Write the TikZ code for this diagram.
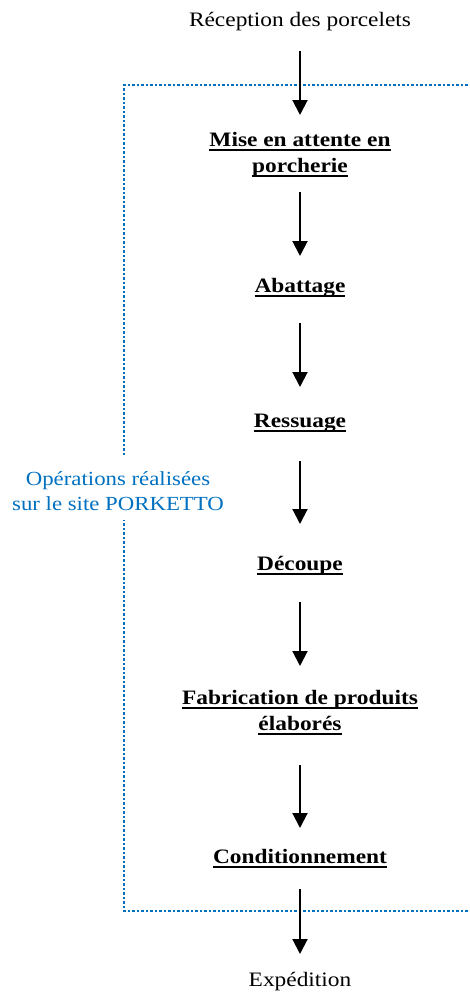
\documentclass[tikz,border=0pt]{standalone}
\usepackage{fontspec}
\setmainfont{Liberation Serif}[FakeStretch=1.14]
\usetikzlibrary{arrows.meta}
\definecolor{siteblue}{RGB}{0,112,192}
\newcommand\ulb[1]{\setbox0\hbox{#1}\rlap{\raisebox{-5pt}{\rule{\wd0}{1.8pt}}}\box0}
\begin{document}
\begin{tikzpicture}[x=1pt,y=-1pt,
  txt/.style={inner sep=0pt, anchor=base, align=center, font=\fontsize{20.5}{26}\selectfont},
  stepbox/.style={txt, font=\fontsize{20.5}{26}\selectfont\bfseries},
  arr/.style={line width=2pt, -{Triangle[width=15pt,length=15pt]}},
  zone/.style={siteblue, line width=2.5pt, dash pattern=on 2.5pt off 2pt},
  lbl/.style={inner sep=0pt, anchor=base, align=center, text=siteblue, font=\fontsize{20}{25}\selectfont}]
\useasboundingbox (0,0) rectangle (470,993);
% dotted zone
\coordinate (ztr) at (472,85);
\coordinate (ztl) at (124,85);
\coordinate (zbl) at (124,911);
\coordinate (zbr) at (472,911);
\node[lbl] (site) at (118,510) {Opérations réalisées\\sur le site PORKETTO};
\draw[zone] (ztr) -- (ztl) -- ([yshift=-370pt]ztl);
\draw[zone] (zbr) -- (zbl) -- ([yshift=391pt]zbl);
% steps
\node[txt] (rec) at (300,27) {Réception des porcelets};
\node[stepbox] (mise) at (300,172) {\ulb{Mise en attente en}\\\ulb{porcherie}};
\node[stepbox] (abat) at (300,292) {\ulb{Abattage}};
\node[stepbox] (ress) at (300,427) {\ulb{Ressuage}};
\node[stepbox] (dec) at (300,570) {\ulb{Découpe}};
\node[stepbox] (fab) at (300,730) {\ulb{Fabrication de produits}\\\ulb{élaborés}};
\node[stepbox] (cond) at (300,863) {\ulb{Conditionnement}};
\node[txt] (exp) at (300,986) {Expédition};
% arrows
\draw[arr] ([yshift=-24pt]rec.base) -- ([yshift=57pt]mise.base);
\draw[arr] ([yshift=-20pt]mise.base) -- ([yshift=36pt]abat.base);
\draw[arr] ([yshift=-31pt]abat.base) -- ([yshift=40pt]ress.base);
\draw[arr] ([yshift=-34pt]ress.base) -- ([yshift=46pt]dec.base);
\draw[arr] ([yshift=-32pt]dec.base) -- ([yshift=64pt]fab.base);
\draw[arr] ([yshift=-35pt]fab.base) -- ([yshift=35pt]cond.base);
\draw[arr] ([yshift=-26pt]cond.base) -- ([yshift=32pt]exp.base);
\end{tikzpicture}
\end{document}
